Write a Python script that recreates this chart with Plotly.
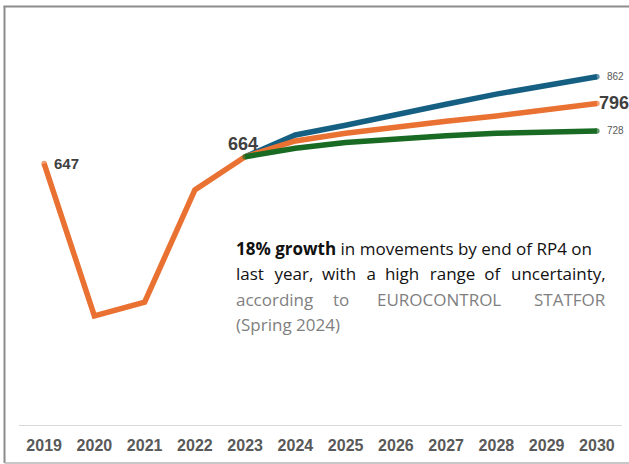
import plotly.graph_objects as go

# Movements (thousands) – actuals to 2023, then STATFOR forecast scenarios
years = ["2019", "2020", "2021", "2022", "2023", "2024", "2025",
         "2026", "2027", "2028", "2029", "2030"]
base_values = [647, 270, 304, 582, 664, 703, 722, 738, 752, 765, 780, 796]
forecast_years = years[4:]
high_values = [664, 718, 742, 769, 794, 819, 840, 862]
low_values = [664, 685, 699, 709, 716, 722, 724, 728]

BLUE = "#156082"
ORANGE = "#E97132"
GREEN = "#196B24"
LABEL = "#404040"

W, H = 629, 464
L, R, T, B = 18.5, 7, 21, 39
LW = 5.5


def px(x):
    return (x - L) / (W - L - R)


def py(y):
    return (H - B - y) / (H - T - B)


def cap_sizes(n, start=True):
    # round caps at the line ends, drawn as markers as wide as the stroke
    return [LW if start else 0] + [0] * (n - 2) + [LW]


fig = go.Figure()
fig.add_trace(go.Scatter(
    x=forecast_years, y=high_values, mode="lines+markers",
    line=dict(color=BLUE, width=LW),
    marker=dict(color=BLUE, size=cap_sizes(len(high_values), start=False), line=dict(width=0)),
    hoverinfo="skip", showlegend=False))
fig.add_trace(go.Scatter(
    x=years, y=base_values, mode="lines+markers",
    line=dict(color=ORANGE, width=LW),
    marker=dict(color=ORANGE, size=cap_sizes(len(base_values)), line=dict(width=0)),
    hoverinfo="skip", showlegend=False))
fig.add_trace(go.Scatter(
    x=forecast_years, y=low_values, mode="lines+markers",
    line=dict(color=GREEN, width=LW),
    marker=dict(color=GREEN, size=cap_sizes(len(low_values)), line=dict(width=0)),
    hoverinfo="skip", showlegend=False))

first = 0
start_fc = years.index(forecast_years[0])
last = len(years) - 1

bold_font = dict(family="Liberation Sans, Arial", color=LABEL)
small_font = dict(size=10, family="Liberation Sans, Arial", color="#595959")
annotations = [
    dict(x=first, y=base_values[first], text=f"<b>{base_values[first]}</b>",
         xanchor="left", yanchor="middle", xshift=8, showarrow=False,
         font=dict(size=15, **bold_font)),
    dict(x=start_fc, y=base_values[start_fc], text=f"<b>{base_values[start_fc]}</b>",
         xanchor="center", yanchor="bottom", xshift=-2, yshift=1, showarrow=False,
         font=dict(size=18, **bold_font)),
    dict(x=last, y=base_values[last], text=f"<b>{base_values[last]}</b>",
         xanchor="left", yanchor="middle", xshift=0, showarrow=False,
         font=dict(size=18, **bold_font)),
    dict(x=last, y=high_values[-1], text=f"{high_values[-1]}",
         xanchor="left", yanchor="middle", xshift=8, showarrow=False, font=small_font),
    dict(x=last, y=low_values[-1], text=f"{low_values[-1]}",
         xanchor="left", yanchor="middle", xshift=8, showarrow=False, font=small_font),
]

# Commentary block, justified by hand on the middle lines
note_font = dict(family="Open Sans", size=17)
dark = dict(color="#111111", **note_font)
grey = dict(color="#7f7f7f", **note_font)
note_x0, note_x1 = 234, 608
WIDE = "\u00a0\u00a0\u200a"
NARROW = "\u00a0\u00a0"


def note(text, x, y, anchor, font):
    annotations.append(dict(
        xref="paper", yref="paper", x=px(x), y=py(y), text=text,
        xanchor=anchor, yanchor="middle", showarrow=False, font=font))


note("<b>18% growth</b> in movements by end of RP4 on", note_x0, 248, "left", dark)
line2 = ["last", "year,", "with", "a", "high", "range", "of", "uncertainty,"]
head = line2[0]
for i, word in enumerate(line2[1:-1]):
    head += (WIDE if i % 2 == 0 else NARROW) + word
note(head, note_x0, 273, "left", dark)
note(line2[-1], note_x1, 273, "right", dark)
note("according", note_x0, 299, "left", grey)
note("to", 341, 299, "center", grey)
note("EUROCONTROL", 438.5, 299, "center", grey)
note("STATFOR", note_x1, 299, "right", grey)
note("(Spring 2024)", note_x0, 324, "left", grey)

shapes = [
    dict(type="line", xref="paper", yref="paper", x0=px(4), x1=px(4), y0=py(6), y1=py(463),
         line=dict(color="#8c8c8c", width=2)),
    dict(type="line", xref="paper", yref="paper", x0=px(3), x1=px(640), y0=py(6.5), y1=py(6.5),
         line=dict(color="#8c8c8c", width=2)),
    dict(type="line", xref="paper", yref="paper", x0=px(4), x1=px(640), y0=py(463), y1=py(463),
         line=dict(color="#b5b5b5", width=1.5)),
]

fig.update_layout(
    width=W, height=H,
    margin=dict(l=L, r=R, t=T, b=B, pad=0),
    paper_bgcolor="white", plot_bgcolor="white",
    annotations=annotations, shapes=shapes,
    xaxis=dict(type="category", categoryorder="array", categoryarray=years,
               range=[-0.5, len(years) - 0.5], showgrid=False,
               showline=True, linecolor="#d9d9d9", linewidth=1, ticks="",
               tickfont=dict(family="Liberation Sans, Arial", size=16, color="#595959"),
               tickprefix="<b>", ticksuffix="</b>", ticklabelstandoff=6, zeroline=False),
    yaxis=dict(range=[0, 1000], showgrid=False, showticklabels=False, zeroline=False,
               showline=False, ticks=""),
)

fig.write_html("out.html")
